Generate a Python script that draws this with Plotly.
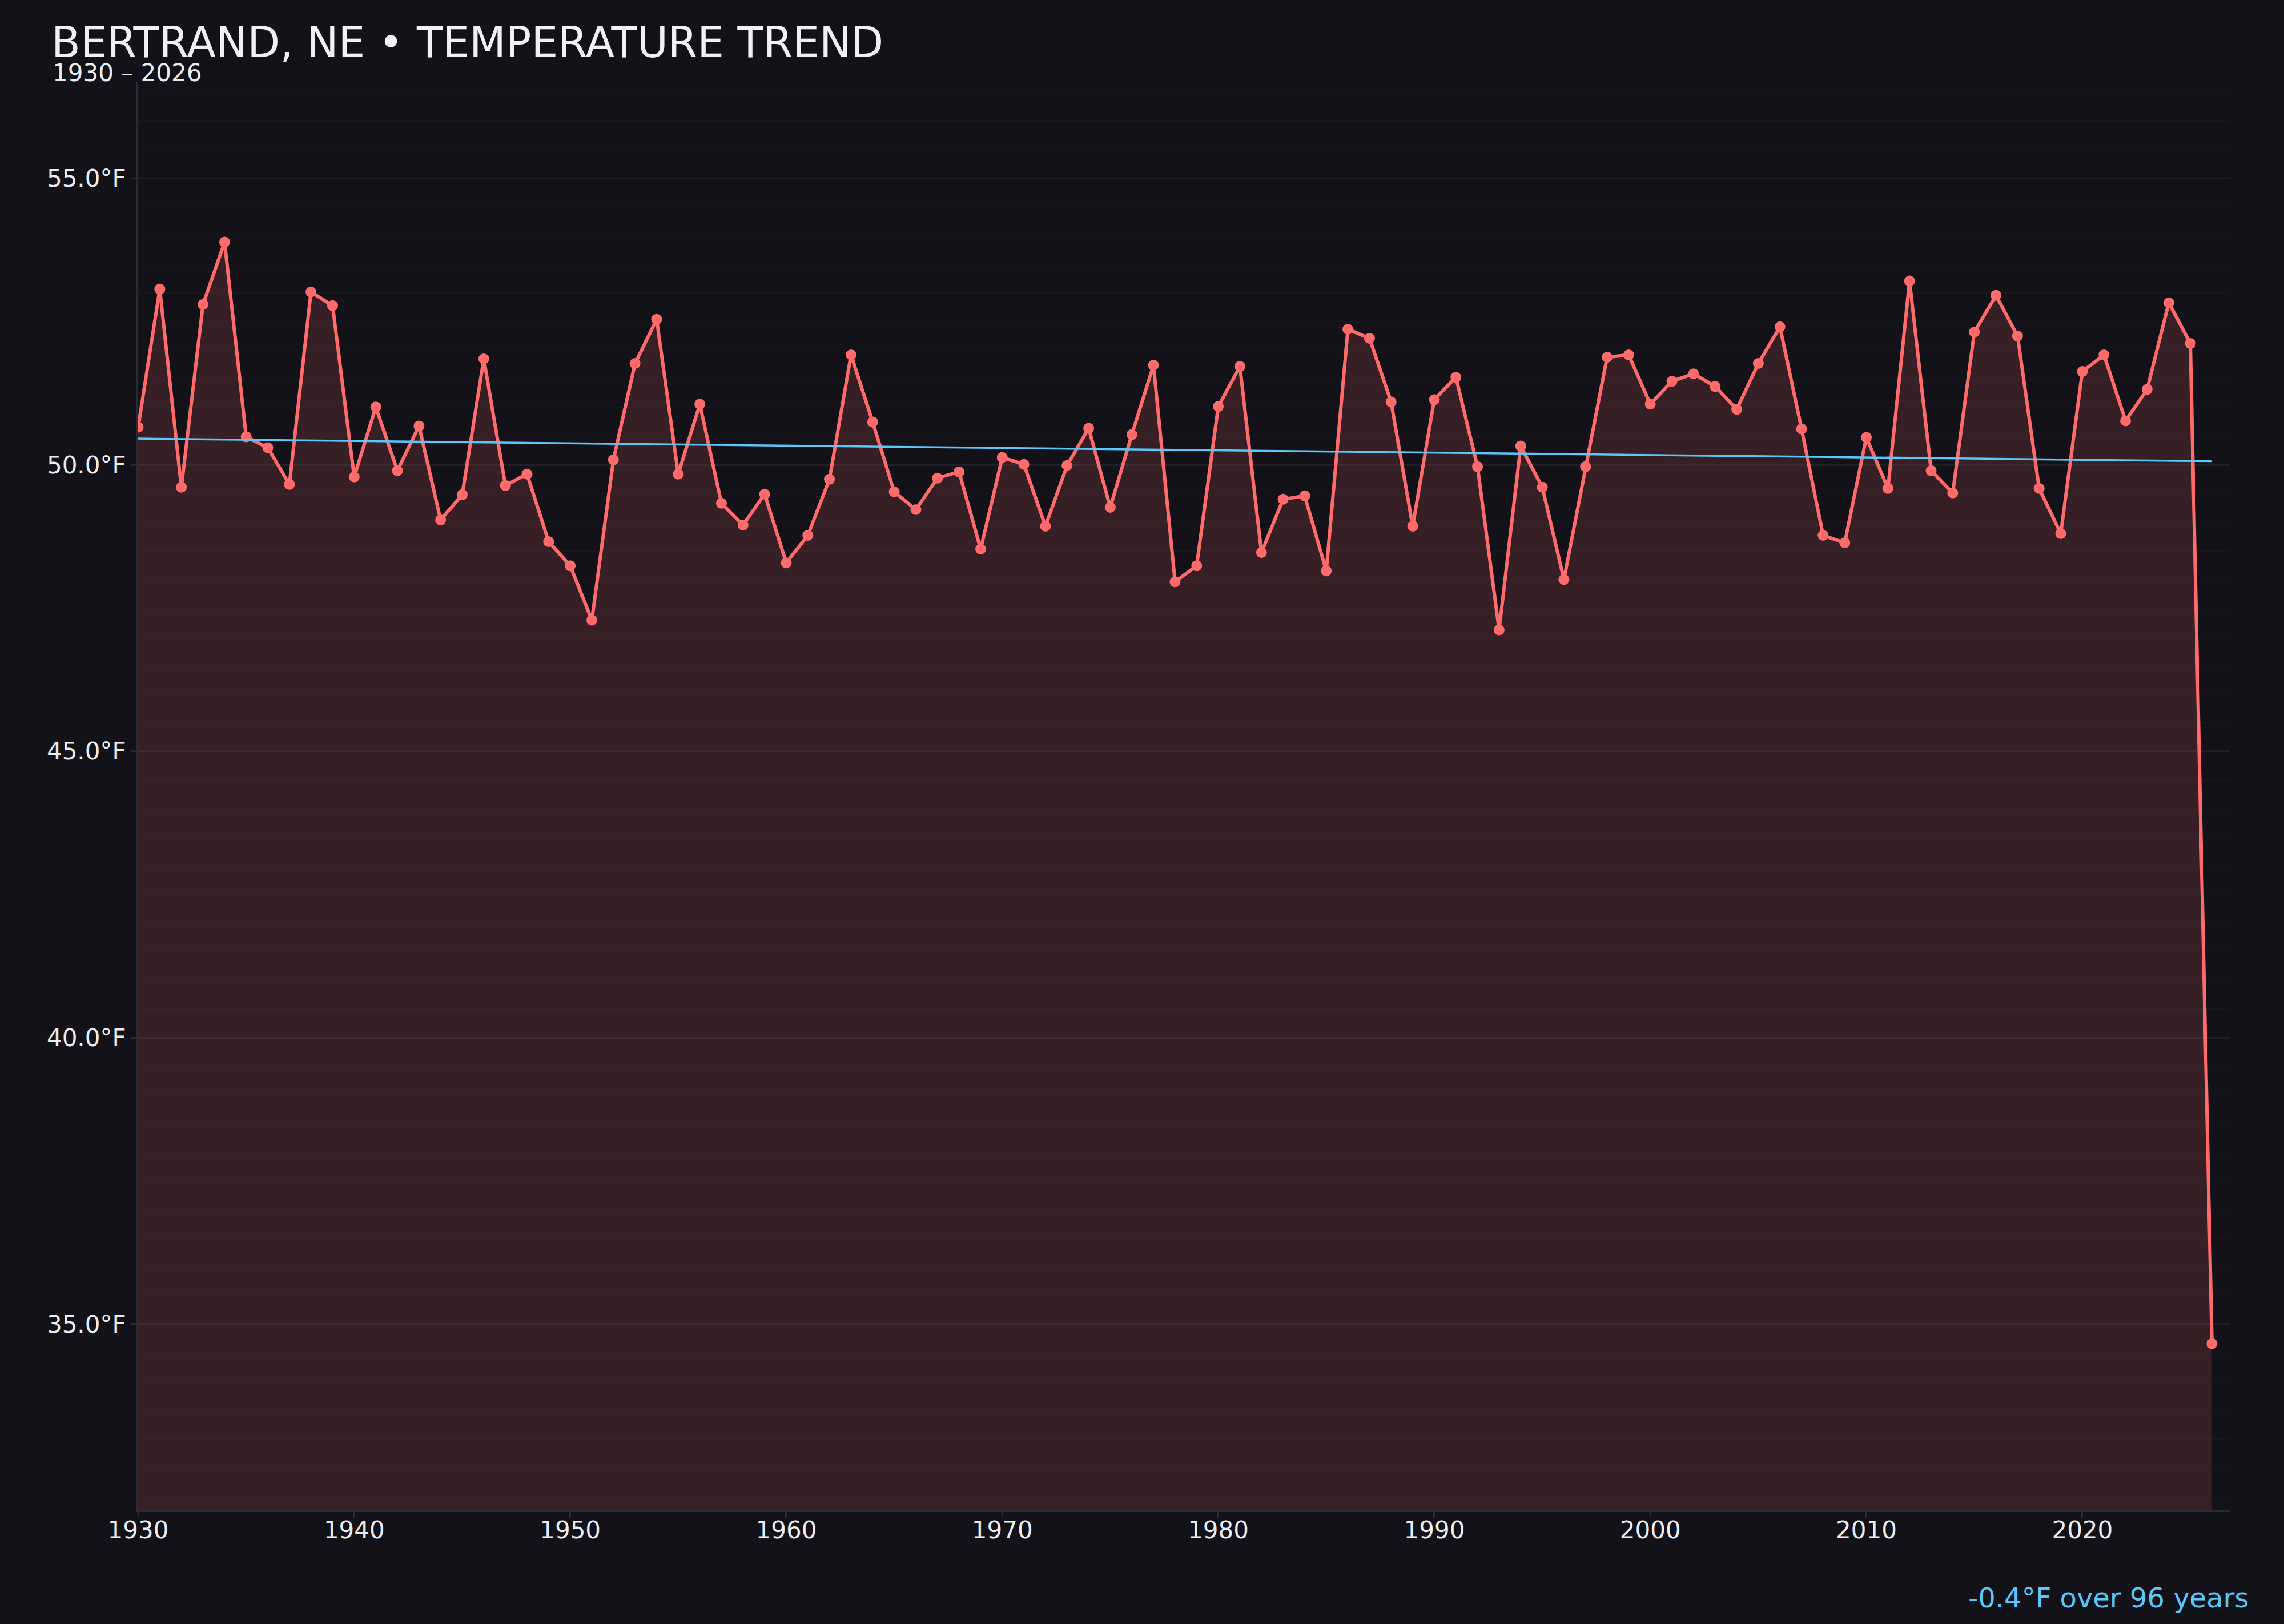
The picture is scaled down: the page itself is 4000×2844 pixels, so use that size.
import numpy as np
import plotly.graph_objects as go

# ---------- data ----------
years = list(range(1930, 2027))
temps_f = [
    50.66, 53.07, 49.61, 52.80, 53.89, 50.49, 50.30, 49.66, 53.02, 52.78,  # 1930s
    49.79, 51.01, 49.90, 50.68, 49.04, 49.48, 51.85, 49.64, 49.84, 48.66,  # 1940s
    48.24, 47.29, 50.09, 51.77, 52.54, 49.84, 51.06, 49.33, 48.95, 49.49,  # 1950s
    48.29, 48.77, 49.75, 51.92, 50.75, 49.53, 49.22, 49.77, 49.88, 48.53,  # 1960s
    50.13, 50.01, 48.93, 49.99, 50.64, 49.26, 50.53, 51.74, 47.96, 48.24,  # 1970s
    51.02, 51.72, 48.47, 49.40, 49.46, 48.15, 52.37, 52.21, 51.10, 48.93,  # 1980s
    51.14, 51.53, 49.97, 47.12, 50.33, 49.61, 48.00, 49.97, 51.88, 51.92,  # 1990s
    51.06, 51.46, 51.59, 51.37, 50.97, 51.77, 52.41, 50.63, 48.77, 48.64,  # 2000s
    50.48, 49.59, 53.21, 49.90, 49.51, 52.32, 52.96, 52.25, 49.59, 48.80,  # 2010s
    51.63, 51.92, 50.77, 51.32, 52.83, 52.12, 34.66,                      # 2020s
]
title_text = "BERTRAND, NE \u2022 TEMPERATURE TREND"
subtitle_text = "1930 \u2013 2026"
trend_label = "-0.4\u00b0F over 96 years"

BG = "#131219"
LINE = "#ff6b6b"
TREND = "#5ac8fa"
TEXT = "#ececf1"
AXIS = "#2c2b33"
FONT = "DejaVu Sans"

# linear trend over the full record
slope, intercept = np.polyfit(years, temps_f, 1)
trend_y = [slope * y + intercept for y in (years[0], years[-1])]

fig = go.Figure()

fig.add_trace(go.Scatter(
    x=years,
    y=temps_f,
    mode="lines+markers",
    line=dict(color=LINE, width=6),
    marker=dict(color=LINE, size=19),
    fill="tozeroy",
    fillcolor="rgba(255,107,107,0.15)",
    showlegend=False,
))

fig.add_trace(go.Scatter(
    x=[years[0], years[-1]],
    y=trend_y,
    mode="lines",
    line=dict(color=TREND, width=3.5),
    showlegend=False,
))

fig.update_layout(
    width=4000,
    height=2844,
    paper_bgcolor=BG,
    plot_bgcolor=BG,
    font=dict(family=FONT, color=TEXT, size=42),
    margin=dict(l=242, r=94, t=143, b=200),
    title=dict(
        text=title_text,
        font=dict(family=FONT, size=74, color="#f2f2f6"),
        xref="container", x=90 / 4000, xanchor="left",
        yref="container", y=1 - 48 / 2844, yanchor="top",
    ),
    annotations=[
        dict(
            text=subtitle_text,
            xref="paper", x=(90 - 242) / 3664, xanchor="left",
            yref="paper", y=1 + 16 / 2501, yanchor="middle",
            showarrow=False,
            font=dict(family=FONT, size=42, color=TEXT),
        ),
        dict(
            text=trend_label,
            xref="paper", x=(3940 - 242) / 3664, xanchor="right",
            yref="paper", y=-(2798 - 2644) / 2501, yanchor="middle",
            showarrow=False,
            font=dict(family=FONT, size=48, color=TREND),
        ),
    ],
)

fig.update_xaxes(
    range=[1930, 2026.85],
    dtick=10,
    tick0=1930,
    showgrid=False,
    zeroline=False,
    showline=True,
    linecolor=AXIS,
    linewidth=3,
    ticks="outside",
    ticklen=11,
    tickwidth=3,
    tickcolor=AXIS,
    ticklabelstandoff=-14,
    tickfont=dict(family=FONT, size=42, color=TEXT),
)

fig.update_yaxes(
    range=[31.76, 56.69],
    dtick=5,
    tick0=35,
    tickformat=".1f",
    ticksuffix="\u00b0F",
    showgrid=True,
    gridcolor="rgba(255,255,255,0.06)",
    gridwidth=3,
    minor=dict(dtick=0.5, showgrid=True, gridcolor="rgba(255,255,255,0.02)", gridwidth=2),
    zeroline=False,
    showline=True,
    linecolor=AXIS,
    linewidth=3,
    ticks="outside",
    ticklen=10,
    tickwidth=3,
    tickcolor=AXIS,
    tickfont=dict(family=FONT, size=42, color=TEXT),
)

# drop the default page margin so the figure sits flush in the window
fig.write_html(
    "out.html",
    config={"displayModeBar": False},
    post_script="document.body.style.margin='0';document.body.style.background='%s';" % BG,
)
